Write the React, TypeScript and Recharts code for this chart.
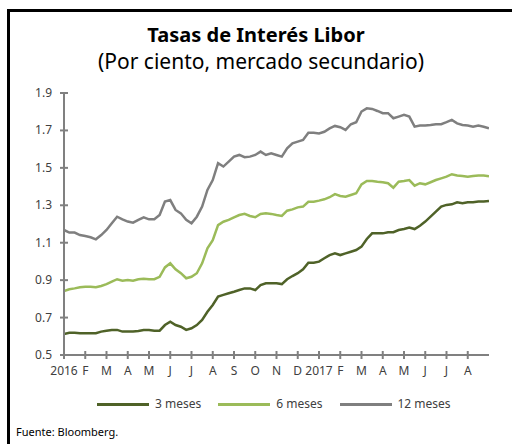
// Tasas de Interés Libor, 2016-2017

import { LineChart, Line, XAxis, YAxis } from 'recharts'

// posición en meses desde el 1 de enero de 2016 (cada cuarto de mes)
const meses = [
  0, 0.25, 0.5, 0.75, 1, 1.25, 1.5, 1.75, 2, 2.25, 2.5, 2.75,
  3, 3.25, 3.5, 3.75, 4, 4.25, 4.5, 4.75, 5, 5.25, 5.5, 5.75,
  6, 6.25, 6.5, 6.75, 7, 7.25, 7.5, 7.75, 8, 8.25, 8.5, 8.75,
  9, 9.25, 9.5, 9.75, 10, 10.25, 10.5, 10.75, 11, 11.25, 11.5, 11.75,
  12, 12.25, 12.5, 12.75, 13, 13.25, 13.5, 13.75, 14, 14.25, 14.5, 14.75,
  15, 15.25, 15.5, 15.75, 16, 16.25, 16.5, 16.75, 17, 17.25, 17.5, 17.75,
  18, 18.25, 18.5, 18.75, 19, 19.25, 19.5, 19.75, 20,
]

const tres = [
  0.612, 0.619, 0.619, 0.616, 0.616, 0.616, 0.616, 0.625, 0.63, 0.634, 0.634, 0.625,
  0.625, 0.625, 0.628, 0.634, 0.634, 0.63, 0.63, 0.66, 0.678, 0.66, 0.651, 0.634,
  0.643, 0.66, 0.687, 0.731, 0.767, 0.812, 0.821, 0.83, 0.838, 0.847, 0.856, 0.856,
  0.847, 0.874, 0.883, 0.883, 0.883, 0.879, 0.905, 0.922, 0.937, 0.958, 0.993, 0.993,
  0.999, 1.017, 1.034, 1.043, 1.034, 1.043, 1.052, 1.061, 1.079, 1.12, 1.15, 1.15,
  1.15, 1.156, 1.156, 1.168, 1.173, 1.181, 1.173, 1.191, 1.213, 1.239, 1.266, 1.293,
  1.302, 1.305, 1.316, 1.311, 1.316, 1.316, 1.32, 1.32, 1.323,
]

const seis = [
  0.842, 0.851, 0.856, 0.862, 0.865, 0.865, 0.862, 0.869, 0.879, 0.892, 0.905, 0.897,
  0.901, 0.897, 0.905, 0.908, 0.905, 0.905, 0.918, 0.968, 0.99, 0.958, 0.937, 0.91,
  0.918, 0.937, 0.99, 1.07, 1.114, 1.194, 1.212, 1.222, 1.236, 1.248, 1.254, 1.243,
  1.236, 1.254, 1.257, 1.254, 1.248, 1.243, 1.271, 1.278, 1.289, 1.293, 1.319, 1.319,
  1.325, 1.332, 1.343, 1.36, 1.35, 1.346, 1.355, 1.364, 1.412, 1.43, 1.43, 1.426,
  1.423, 1.418, 1.394, 1.426, 1.43, 1.435, 1.405, 1.418, 1.412, 1.423, 1.435, 1.444,
  1.453, 1.466, 1.459, 1.457, 1.453, 1.457, 1.459, 1.459, 1.455,
]

const doce = [
  1.168, 1.154, 1.154, 1.141, 1.136, 1.129, 1.118, 1.141, 1.168, 1.204, 1.239, 1.225,
  1.213, 1.207, 1.222, 1.236, 1.225, 1.225, 1.248, 1.32, 1.328, 1.275, 1.257, 1.222,
  1.204, 1.239, 1.293, 1.382, 1.435, 1.525, 1.507, 1.533, 1.56, 1.569, 1.557, 1.56,
  1.569, 1.587, 1.569, 1.578, 1.569, 1.56, 1.604, 1.631, 1.64, 1.649, 1.688, 1.688,
  1.684, 1.693, 1.711, 1.724, 1.717, 1.703, 1.733, 1.744, 1.801, 1.818, 1.815, 1.804,
  1.792, 1.792, 1.765, 1.774, 1.783, 1.774, 1.72, 1.726, 1.726, 1.729, 1.733, 1.733,
  1.744, 1.756, 1.738, 1.729, 1.726, 1.72, 1.726, 1.72, 1.711,
]

const etiquetasMes = [
  '2016', 'F', 'M', 'A', 'M', 'J', 'J', 'A', 'S', 'O', 'N', 'D',
  '2017', 'F', 'M', 'A', 'M', 'J', 'J', 'A',
]
const ticksMes = etiquetasMes.map((_, i) => i)
const ticksTasa = [0.5, 0.7, 0.9, 1.1, 1.3, 1.5, 1.7, 1.9]

const series = [
  { key: 'tres', nombre: '3 meses', color: '#4f6228' },
  { key: 'seis', nombre: '6 meses', color: '#9bbb59' },
  { key: 'doce', nombre: '12 meses', color: '#7f7f7f' },
]

const data = meses.map((m, i) => ({ m, tres: tres[i], seis: seis[i], doce: doce[i] }))

const FUENTE = '"Noto Sans", "Open Sans", sans-serif'
const EJE = '#808080'

function TickMes({ x, y, payload }: any) {
  return (
    <g>
      <line x1={x} x2={x} y1={y - 4} y2={y + 4} stroke={EJE} strokeWidth={2} />
      <text x={x} y={y + 20} textAnchor="middle" fontSize={12} fill="#404040" fontFamily={FUENTE}>
        {etiquetasMes[payload.value]}
      </text>
    </g>
  )
}

function TickTasa({ x, y, payload }: any) {
  return (
    <g>
      <line x1={x - 4} x2={x + 4} y1={y} y2={y} stroke={EJE} strokeWidth={2} />
      <text x={x - 12} y={y + 4} textAnchor="end" fontSize={12} fill="#404040" fontFamily={FUENTE}>
        {payload.value.toFixed(1)}
      </text>
    </g>
  )
}

function Leyenda() {
  return (
    <div
      style={{
        position: 'absolute',
        left: 97,
        top: 395,
        display: 'flex',
        gap: 17,
        fontFamily: FUENTE,
        fontSize: 12,
        lineHeight: '18px',
        color: '#404040',
      }}
    >
      {series.map((s) => (
        <div key={s.key} style={{ display: 'flex', alignItems: 'center' }}>
          <div style={{ width: 52, height: 3, background: s.color, marginRight: 6 }} />
          <span>{s.nombre}</span>
        </div>
      ))}
    </div>
  )
}

export default function App() {
  return (
    <div style={{ position: 'absolute', left: 0, top: 0, width: 512, height: 444, overflow: 'hidden', background: '#fff' }}>
      <div
        style={{
          position: 'absolute',
          left: 7,
          top: 9,
          width: 540,
          height: 480,
          border: '3px solid #000',
        }}
      />
      <div style={{ position: 'absolute', top: 22, left: 0, width: 512, textAlign: 'center', fontFamily: FUENTE, color: '#000' }}>
        <div style={{ fontSize: 20, fontWeight: 700, lineHeight: '26px' }}>Tasas de Interés Libor</div>
        <div style={{ fontSize: 21, lineHeight: '27px', paddingLeft: 10 }}>(Por ciento, mercado secundario)</div>
      </div>
      <div style={{ position: 'absolute', left: 0, top: 0 }}>
        <LineChart width={512} height={444} data={data} margin={{ top: 93, right: 23, left: 0, bottom: 59 }}>
          <XAxis
            dataKey="m"
            type="number"
            domain={[0, 20]}
            ticks={ticksMes}
            interval={0}
            allowDataOverflow
            axisLine={{ stroke: EJE, strokeWidth: 2 }}
            tickLine={false}
            tickSize={0}
            tickMargin={0}
            tick={<TickMes />}
            height={30}
          />
          <YAxis
            type="number"
            domain={[0.5, 1.9]}
            ticks={ticksTasa}
            interval={0}
            axisLine={{ stroke: EJE, strokeWidth: 2 }}
            tickLine={false}
            tickSize={0}
            tickMargin={0}
            tick={<TickTasa />}
            width={64}
          />
          {series.map((s) => (
            <Line
              key={s.key}
              type="linear"
              dataKey={s.key}
              name={s.nombre}
              stroke={s.color}
              strokeWidth={2.5}
              dot={false}
              isAnimationActive={false}
            />
          ))}
        </LineChart>
      </div>
      <Leyenda />
      <div style={{ position: 'absolute', left: 16, top: 424, fontFamily: FUENTE, fontSize: 11, color: '#000' }}>
        Fuente: Bloomberg.
      </div>
    </div>
  )
}
